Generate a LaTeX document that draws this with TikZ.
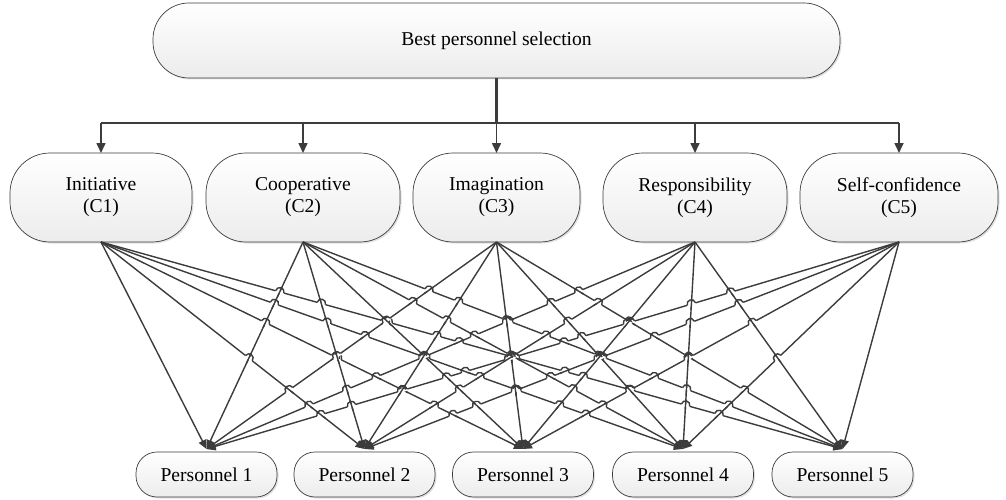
\documentclass[tikz,border=0pt]{standalone}
\usepackage{fontspec}
\setmainfont{Liberation Serif}
\usetikzlibrary{arrows.meta,shadows}
\definecolor{ink}{HTML}{3C3C3C}
\def\SX{{101,303,496.5,695,899}}
\def\TX{{206.5,364.5,523,683,842.5}}
\begin{document}
\begin{tikzpicture}[x=1pt,y=-1pt,
  box/.style={draw=ink, line width=0.7pt, top color=white, bottom color=gray!15,
    drop shadow={shadow xshift=1.5pt,shadow yshift=-1.5pt,fill=gray!40,opacity=0.6},
    align=center, font=\fontsize{19.6}{22}\selectfont, inner sep=0pt, outer sep=0pt},
  topbox/.style={box, minimum width=687pt, minimum height=75pt, rounded corners=36pt},
  critbox/.style={box, minimum height=89pt, rounded corners=40pt},
  persbox/.style={box, minimum width=141pt, minimum height=45pt, rounded corners=21pt},
  busline/.style={draw=ink, line width=1.6pt},
  trunk/.style={draw=ink, line width=2.6pt},
  busarrow/.style={draw=ink, line width=1.6pt, -{Triangle[length=10pt,width=9pt]}},
  fan/.style={draw=ink, line width=1.4pt, -{Triangle[length=9pt,width=8pt]}},
  fanline/.style={draw=ink, line width=1.4pt},
  eraser/.style={draw=white, line width=3.4pt}]
\useasboundingbox (0,0) rectangle (1006,500);

\node[topbox] (top) at (496.5,40.5) {Best personnel selection};

\node[critbox, minimum width=182pt] (c1) at (101,197.5) {Initiative\\(C1)};
\node[critbox, minimum width=194pt] (c2) at (303,197.5) {Cooperative\\(C2)};
\node[critbox, minimum width=167pt] (c3) at (496.5,197.5) {Imagination\\(C3)};
\node[critbox, minimum width=184pt] (c4) at (695,197.5) {Responsibility\\(C4)};
\node[critbox, minimum width=198pt] (c5) at (899,197.5) {Self-confidence\\(C5)};

\node[persbox] (p1) at (206.5,474.5) {Personnel 1};
\node[persbox] (p2) at (364.5,474.5) {Personnel 2};
\node[persbox] (p3) at (523,474.5) {Personnel 3};
\node[persbox] (p4) at (683,474.5) {Personnel 4};
\node[persbox] (p5) at (842.5,474.5) {Personnel 5};

\coordinate (bus) at (0,123);
\draw[trunk] (top.south) -- (top.south |- bus);
\draw[busline] (c1.north |- bus) -- (c5.north |- bus);
\foreach \i in {1,...,5}{
  \draw[busarrow] (c\i.north |- bus) -- (c\i.north);
}

\foreach \j in {1,...,5}{
  \coordinate (t\j) at ([yshift=3pt]p\j.north);
}
\foreach \i in {1,...,5}{
  \foreach \j in {1,...,5}{
    \draw[fan] (c\i.south) -- (t\j);
  }
}

% line hops at crossings
\foreach \a in {0,...,24}{
 \foreach \b in {0,...,24}{
  \ifnum\b>\a\relax
   \pgfmathtruncatemacro\qi{floor(\a/5)}
   \pgfmathtruncatemacro\qj{mod(\a,5)}
   \pgfmathtruncatemacro\qk{floor(\b/5)}
   \pgfmathtruncatemacro\ql{mod(\b,5)}
   \pgfmathtruncatemacro\qok{(\qi!=\qk)*(\qj!=\ql)}
   \ifnum\qok=1
    \pgfmathsetmacro\qxa{\SX[\qi]}
    \pgfmathsetmacro\qxb{\SX[\qk]}
    \pgfmathsetmacro\qdxa{\TX[\qj]-\qxa}
    \pgfmathsetmacro\qdxb{\TX[\ql]-\qxb}
    \pgfmathsetmacro\qden{\qdxa-\qdxb}
    \pgfmathtruncatemacro\qok{abs(\qden)>0.05}
    \ifnum\qok=1
     \pgfmathsetmacro\qt{(\qxb-\qxa)/\qden}
     \pgfmathtruncatemacro\qok{(\qt>0.03)*(\qt<0.94)}
     \ifnum\qok=1
      \pgfmathsetmacro\qcx{\qxa+\qdxa*\qt}
      \pgfmathsetmacro\qcy{242+207*\qt}
      \pgfmathtruncatemacro\qha{abs(\qdxa)>=abs(\qdxb)}
      \ifnum\qha=1 \let\qh\qdxa \let\qv\qdxb \else \let\qh\qdxb \let\qv\qdxa \fi
      \pgfmathsetmacro\qlh{100*veclen(\qh/100,2.07)}
      \pgfmathsetmacro\qux{\qh/\qlh}
      \pgfmathsetmacro\quy{207/\qlh}
      \pgfmathsetmacro\qlv{100*veclen(\qv/100,2.07)}
      \pgfmathsetmacro\qvx{\qv/\qlv}
      \pgfmathsetmacro\qvy{207/\qlv}
      \pgfmathsetmacro\qsg{\qux>=0 ? 1 : -1}
      \pgfmathsetmacro\qnx{\qsg*\quy}
      \pgfmathsetmacro\qny{-abs(\qux)}
      \pgfmathsetmacro\qax{\qcx-4.3*\qux}
      \pgfmathsetmacro\qay{\qcy-4.3*\quy}
      \pgfmathsetmacro\qbx{\qcx+4.3*\qux}
      \pgfmathsetmacro\qby{\qcy+4.3*\quy}
      \draw[eraser] (\qax,\qay) -- (\qbx,\qby);
      \draw[fanline] (\qcx-5.5*\qvx,\qcy-5.5*\qvy) -- (\qcx+5.5*\qvx,\qcy+5.5*\qvy);
      \draw[fanline] (\qax,\qay) .. controls (\qax+5.7*\qnx,\qay+5.7*\qny) and (\qbx+5.7*\qnx,\qby+5.7*\qny) .. (\qbx,\qby);
     \fi
    \fi
   \fi
  \fi
 }
}
\end{tikzpicture}
\end{document}
